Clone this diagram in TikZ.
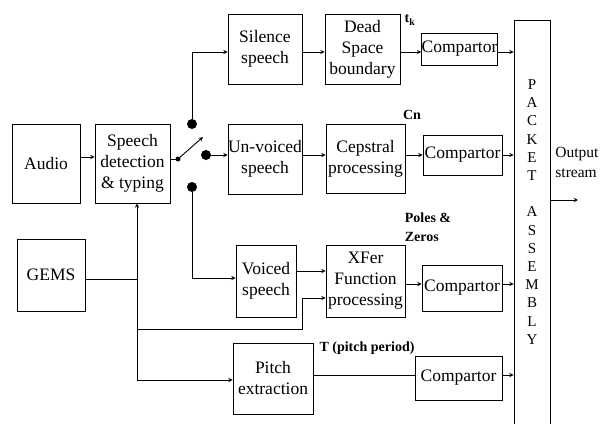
\documentclass[tikz,border=0pt]{standalone}
\usepackage{fontspec}
\setmainfont{Liberation Serif}
\usetikzlibrary{arrows}

\begin{document}
\begin{tikzpicture}[x=1pt,y=-1pt,>=stealth,line width=0.9pt,
  blk/.style={draw,align=center,inner sep=0pt,font=\rmfamily\fontsize{17.5}{21}\selectfont},
  lbl/.style={align=left,inner sep=0pt,font=\rmfamily\bfseries\fontsize{14}{19}\selectfont},
  dot/.style={circle,fill,inner sep=0pt,minimum size=10pt}]
  \clip (0,0) rectangle (610,423);

  \node[blk,minimum width=68pt,minimum height=79pt] (au) at (46,163.5) {Audio};
  \node[blk,minimum width=75pt,minimum height=79pt] (sp) at (132.5,163.5) {Speech\\detection\\\& typing};
  \node[blk,minimum width=68pt,minimum height=72pt] (gm) at (51,275) {GEMS};
  \node[blk,minimum width=74pt,minimum height=70pt] (si) at (265,49) {Silence\\speech};
  \node[blk,minimum width=74pt,minimum height=70pt] (uv) at (265,159) {Un-voiced\\speech};
  \node[blk,minimum width=60pt,minimum height=72pt] (vo) at (266,281) {Voiced\\speech};
  \node[blk,minimum width=75pt,minimum height=70pt] (ds) at (362.5,49) {Dead\\Space\\boundary};
  \node[blk,minimum width=79pt,minimum height=69pt] (cp) at (365.5,158.5) {Cepstral\\processing};
  \node[blk,minimum width=79pt,minimum height=72pt] (xf) at (365.5,281) {XFer\\Function\\processing};
  \node[blk,minimum width=80pt,minimum height=71pt] (pt) at (273,378.5) {Pitch\\extraction};
  \node[blk,minimum width=75pt,minimum height=32pt] (c1) at (459.5,49) {Compartor};
  \node[blk,minimum width=79pt,minimum height=40pt] (c2) at (462.5,155) {Compartor};
  \node[blk,minimum width=80pt,minimum height=46pt] (c3) at (462,288) {Compartor};
  \node[blk,minimum width=87pt,minimum height=44pt] (c4) at (458.5,378) {Compartor};
  \node[draw,minimum width=36pt,minimum height=430pt,anchor=north] (pk) at (532,20) {};
  \node[align=center,inner sep=0pt,font=\rmfamily\fontsize{15}{18.2}\selectfont] (pkt) at (532,212)
    {P\\A\\C\\K\\E\\T\\\mbox{}\\A\\S\\S\\E\\M\\B\\L\\Y};

  \node[lbl] (tk) at (410,20) {t\textsubscript{k}};
  \node[lbl] (cn) at (412,115) {Cn};
  \node[lbl] (pz) at (428,227) {Poles \&\\Zeros};
  \node[lbl] (tp) at (367,348) {T (pitch period)};
  \node[blk,draw=none,align=left,anchor=west,font=\rmfamily\fontsize{15.5}{20}\selectfont] (os) at (555,162) {Output\\stream};

  \coordinate (r0) at (0,157);
  \coordinate (r1) at (0,52);
  \coordinate (r2) at (0,155);
  \coordinate (r3) at (0,278);
  \coordinate (r3a) at (0,271);
  \coordinate (r3b) at (0,284);
  \coordinate (r3c) at (0,298);
  \coordinate (r4) at (0,375);
  \coordinate (r5) at (0,380);
  \coordinate (out) at (578,200);

  % switch
  \coordinate (pv) at (178,159);
  \coordinate (tip) at (203,137);
  \node[dot] (s1) at (192,124) {};
  \node[dot] (s2) at (206,155) {};
  \node[dot] (s3) at (192,187) {};
  \fill (pv) circle (2.5);
  \draw (sp.east |- pv) -- (pv);
  \draw[->] (pv) -- (tip);
  \draw[->] (s1) |- (si.west |- r1);
  \draw[->] (s2) -- (uv.west |- s2);
  \draw[->] (s3) |- (vo.west |- r3);

  \draw[->] (au.east |- r0) -- (sp.west |- r0);
  \foreach \a/\b/\r in {si/ds/r1,ds/c1/r1,c1/pk/r1,uv/cp/r2,cp/c2/r2,c2/pk/r2,
                        vo/xf/r3a,xf/c3/r3b,c3/pk/r3b,c4/pk/r4}
    \draw[->] (\a.east |- \r) -- (\b.west |- \r);
  \draw (pt.east |- r4) -- (c4.west |- r4);
  \draw[->] (pk.east |- out) -- (out);

  % GEMS bus
  \coordinate (bus) at (137,279);
  \coordinate (jog) at (302,329);
  \draw (gm.east |- bus) -- (bus);
  \draw[->] (bus) -- (bus |- sp.south);
  \draw[->] (bus) |- (pt.west |- r5);
  \draw[->] (bus |- jog) -- (jog) |- (xf.west |- r3c);
\end{tikzpicture}
\end{document}
